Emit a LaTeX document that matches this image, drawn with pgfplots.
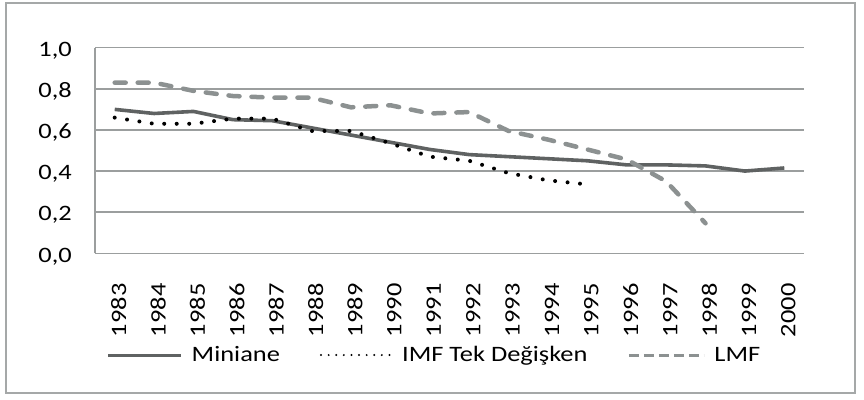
\documentclass[border=0pt]{standalone}
\usepackage{fontspec}
\setmainfont{Carlito}[FakeStretch=1.2]
\usepackage{pgfplots}
\pgfplotsset{compat=1.18}
\definecolor{minc}{RGB}{95,98,98}
\definecolor{lmfc}{RGB}{140,145,145}
\definecolor{gridc}{RGB}{155,158,158}
\definecolor{framec}{RGB}{165,168,168}
\begin{document}
\begin{tikzpicture}
\useasboundingbox (0,0) rectangle (864bp,400bp);
\draw[framec, line width=1.6bp] (6bp,7bp) rectangle (855bp,397bp);
\begin{axis}[
  at={(95bp,146.7bp)}, anchor=south west,
  scale only axis, width=709bp, height=205.6bp,
  xmin=-0.5, xmax=17.5, ymin=0, ymax=1,
  xtick={0,1,2,3,4,5,6,7,8,9,10,11,12,13,14,15,16,17},
  xticklabels={1983,1984,1985,1986,1987,1988,1989,1990,1991,1992,1993,1994,1995,1996,1997,1998,1999,2000},
  ytick={0,0.2,0.4,0.6,0.8,1.0},
  major tick length=0pt,
  axis line style={draw=none},
  ymajorgrids, grid style={gridc, line width=1.4bp},
  tick label style={font=\fontsize{22bp}{26bp}\selectfont, inner sep=0pt},
  xticklabel style={xshift=4bp, rotate=90, anchor=east},
  xticklabel shift=30bp,
  yticklabel style={anchor=east, yshift=-3bp},
  yticklabel shift=23bp,
  /pgf/number format/use comma,
  /pgf/number format/fixed,
  /pgf/number format/fixed zerofill,
  /pgf/number format/precision=1,
  /pgf/number format/assume math mode=true,
  clip=false,
  legend columns=3,
  legend style={draw=none, fill=none, at={(axis description cs:0.4774,-0.4947)}, anchor=center,
    font=\fontsize{22bp}{26bp}\selectfont, column sep=0pt, nodes={inner sep=0pt},
    /tikz/every odd column/.append style={column sep=9bp},
    /tikz/every even column/.append style={column sep=40bp}},
  extra description/.code={\draw[gridc, line width=1.4bp] (rel axis cs:0,0) -- (rel axis cs:0,1);},
]
\addplot[minc, line width=3.6bp, line join=round,
  legend image code/.code={\draw[minc, line width=3bp] (0bp,0bp) -- (73bp,0bp);}]
  coordinates {(0,0.70)(1,0.68)(2,0.69)(3,0.65)(4,0.645)(5,0.61)(6,0.575)(7,0.54)(8,0.505)(9,0.48)(10,0.47)(11,0.46)(12,0.45)(13,0.43)(14,0.43)(15,0.425)(16,0.40)(17,0.415)};
\addlegendentry{Miniane}
\addplot[black, line width=4bp, line cap=round, dash pattern=on 0bp off 12.5bp,
  legend image code/.code={\draw[black, line width=2.2bp, line cap=round, dash pattern=on 0bp off 7.6bp] (1bp,0bp) -- (72bp,0bp);}]
  coordinates {(0,0.66)(1,0.63)(2,0.63)(3,0.655)(4,0.655)(5,0.595)(6,0.595)(7,0.535)(8,0.47)(9,0.45)(10,0.39)(11,0.355)(12,0.335)};
\addlegendentry{IMF Tek Değişken}
\addplot[lmfc, line width=4.5bp, line cap=round, line join=round, dash pattern=on 11bp off 12bp,
  legend image code/.code={\draw[lmfc, line width=3bp, line cap=butt, dash pattern=on 10bp off 5bp] (0bp,0bp) -- (75bp,0bp);}]
  coordinates {(0,0.83)(1,0.83)(2,0.79)(3,0.765)(4,0.757)(5,0.757)(6,0.71)(7,0.72)(8,0.68)(9,0.687)(10,0.595)(11,0.553)(12,0.505)(13,0.456)(14,0.35)(15,0.146)};
\addlegendentry{LMF}
\end{axis}
\end{tikzpicture}
\end{document}
